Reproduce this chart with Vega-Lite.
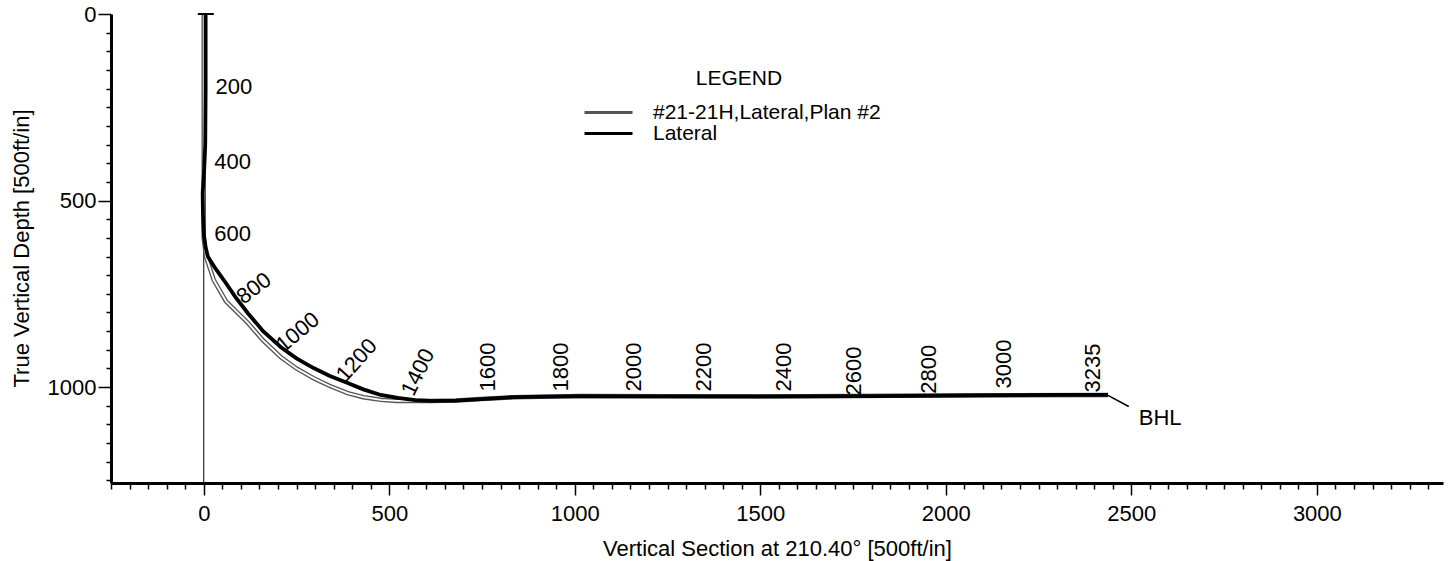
{
  "$schema": "https://vega.github.io/schema/vega-lite/v6.json",
  "width": 1332,
  "height": 469,
  "autosize": {"type": "none"},
  "padding": {"left": 111, "top": 14, "right": 7, "bottom": 78},
  "background": "white",
  "config": {
    "view": {"stroke": null},
    "font": "Liberation Sans",
    "axis": {
      "labelFont": "Liberation Sans",
      "titleFont": "Liberation Sans",
      "labelColor": "black",
      "titleColor": "black",
      "tickColor": "black",
      "domainColor": "black",
      "grid": false,
      "labelFontSize": 22,
      "titleFontSize": 22,
      "titleFontWeight": "normal",
      "domainWidth": 3,
      "tickWidth": 1.5
    },
    "legend": {
      "labelFont": "Liberation Sans",
      "titleFont": "Liberation Sans",
      "labelColor": "black",
      "titleColor": "black",
      "labelFontSize": 21,
      "titleFontSize": 21,
      "titleFontWeight": "normal",
      "padding": 0
    }
  },
  "datasets": {
    "plan": [
      {"series": "#21-21H,Lateral,Plan #2", "seq": 1, "vs": 0, "tvd": 0},
      {"series": "#21-21H,Lateral,Plan #2", "seq": 2, "vs": 0, "tvd": 300},
      {"series": "#21-21H,Lateral,Plan #2", "seq": 3, "vs": 0, "tvd": 600},
      {"series": "#21-21H,Lateral,Plan #2", "seq": 4, "vs": 6, "tvd": 650},
      {"series": "#21-21H,Lateral,Plan #2", "seq": 5, "vs": 27, "tvd": 713},
      {"series": "#21-21H,Lateral,Plan #2", "seq": 6, "vs": 60, "tvd": 770},
      {"series": "#21-21H,Lateral,Plan #2", "seq": 7, "vs": 119, "tvd": 828},
      {"series": "#21-21H,Lateral,Plan #2", "seq": 8, "vs": 160, "tvd": 875},
      {"series": "#21-21H,Lateral,Plan #2", "seq": 9, "vs": 208, "tvd": 920},
      {"series": "#21-21H,Lateral,Plan #2", "seq": 10, "vs": 250, "tvd": 950},
      {"series": "#21-21H,Lateral,Plan #2", "seq": 11, "vs": 296, "tvd": 976},
      {"series": "#21-21H,Lateral,Plan #2", "seq": 12, "vs": 340, "tvd": 997},
      {"series": "#21-21H,Lateral,Plan #2", "seq": 13, "vs": 388, "tvd": 1016},
      {"series": "#21-21H,Lateral,Plan #2", "seq": 14, "vs": 430, "tvd": 1027},
      {"series": "#21-21H,Lateral,Plan #2", "seq": 15, "vs": 477, "tvd": 1034},
      {"series": "#21-21H,Lateral,Plan #2", "seq": 16, "vs": 520, "tvd": 1037},
      {"series": "#21-21H,Lateral,Plan #2", "seq": 17, "vs": 612, "tvd": 1037},
      {"series": "#21-21H,Lateral,Plan #2", "seq": 18, "vs": 680, "tvd": 1036},
      {"series": "#21-21H,Lateral,Plan #2", "seq": 19, "vs": 747, "tvd": 1032},
      {"series": "#21-21H,Lateral,Plan #2", "seq": 20, "vs": 836, "tvd": 1027},
      {"series": "#21-21H,Lateral,Plan #2", "seq": 21, "vs": 1016, "tvd": 1024},
      {"series": "#21-21H,Lateral,Plan #2", "seq": 22, "vs": 1500, "tvd": 1025},
      {"series": "#21-21H,Lateral,Plan #2", "seq": 23, "vs": 2100, "tvd": 1022},
      {"series": "#21-21H,Lateral,Plan #2", "seq": 24, "vs": 2437, "tvd": 1021}
    ],
    "lateral": [
      {"series": "Lateral", "seq": 1, "vs": 5, "tvd": 0},
      {"series": "Lateral", "seq": 2, "vs": 5, "tvd": 200},
      {"series": "Lateral", "seq": 3, "vs": 4, "tvd": 350},
      {"series": "Lateral", "seq": 4, "vs": 1, "tvd": 420},
      {"series": "Lateral", "seq": 5, "vs": -3, "tvd": 480},
      {"series": "Lateral", "seq": 6, "vs": -2, "tvd": 540},
      {"series": "Lateral", "seq": 7, "vs": 0, "tvd": 590},
      {"series": "Lateral", "seq": 8, "vs": 5, "tvd": 625},
      {"series": "Lateral", "seq": 9, "vs": 11, "tvd": 650},
      {"series": "Lateral", "seq": 10, "vs": 30, "tvd": 680},
      {"series": "Lateral", "seq": 11, "vs": 54, "tvd": 713},
      {"series": "Lateral", "seq": 12, "vs": 85, "tvd": 758},
      {"series": "Lateral", "seq": 13, "vs": 119, "tvd": 802},
      {"series": "Lateral", "seq": 14, "vs": 160, "tvd": 850},
      {"series": "Lateral", "seq": 15, "vs": 208, "tvd": 893},
      {"series": "Lateral", "seq": 16, "vs": 250, "tvd": 923},
      {"series": "Lateral", "seq": 17, "vs": 296, "tvd": 949},
      {"series": "Lateral", "seq": 18, "vs": 340, "tvd": 970},
      {"series": "Lateral", "seq": 19, "vs": 388, "tvd": 989},
      {"series": "Lateral", "seq": 20, "vs": 430, "tvd": 1006},
      {"series": "Lateral", "seq": 21, "vs": 477, "tvd": 1021},
      {"series": "Lateral", "seq": 22, "vs": 523, "tvd": 1029},
      {"series": "Lateral", "seq": 23, "vs": 570, "tvd": 1035},
      {"series": "Lateral", "seq": 24, "vs": 612, "tvd": 1037},
      {"series": "Lateral", "seq": 25, "vs": 680, "tvd": 1036},
      {"series": "Lateral", "seq": 26, "vs": 747, "tvd": 1032},
      {"series": "Lateral", "seq": 27, "vs": 836, "tvd": 1027},
      {"series": "Lateral", "seq": 28, "vs": 1016, "tvd": 1024},
      {"series": "Lateral", "seq": 29, "vs": 1200, "tvd": 1025},
      {"series": "Lateral", "seq": 30, "vs": 1500, "tvd": 1025},
      {"series": "Lateral", "seq": 31, "vs": 1800, "tvd": 1024},
      {"series": "Lateral", "seq": 32, "vs": 2100, "tvd": 1022},
      {"series": "Lateral", "seq": 33, "vs": 2300, "tvd": 1021},
      {"series": "Lateral", "seq": 34, "vs": 2437, "tvd": 1021}
    ],
    "md_labels": [
      {"md": "200", "inc": 0, "vs": 81, "tvd": 196},
      {"md": "400", "inc": 0, "vs": 78, "tvd": 397},
      {"md": "600", "inc": 0, "vs": 78, "tvd": 590},
      {"md": "800", "inc": 37, "vs": 135, "tvd": 735},
      {"md": "1000", "inc": 40, "vs": 253, "tvd": 853},
      {"md": "1200", "inc": 48, "vs": 412, "tvd": 928},
      {"md": "1400", "inc": 64, "vs": 577, "tvd": 960},
      {"md": "1600", "inc": 90, "vs": 765, "tvd": 946},
      {"md": "1800", "inc": 90, "vs": 962, "tvd": 946},
      {"md": "2000", "inc": 90, "vs": 1159, "tvd": 946},
      {"md": "2200", "inc": 90, "vs": 1348, "tvd": 946},
      {"md": "2400", "inc": 90, "vs": 1563, "tvd": 946},
      {"md": "2600", "inc": 90, "vs": 1752, "tvd": 957},
      {"md": "2800", "inc": 90, "vs": 1954, "tvd": 952},
      {"md": "3000", "inc": 90, "vs": 2156, "tvd": 938},
      {"md": "3235", "inc": 90, "vs": 2396, "tvd": 949}
    ]
  },
  "layer": [
    {
      "data": {"values": [{"vs": 0}]},
      "mark": {"type": "rule", "color": "black", "strokeWidth": 1},
      "encoding": {
        "x": {
          "field": "vs",
          "type": "quantitative",
          "title": "Vertical Section at 210.40° [500ft/in]",
          "scale": {"domain": [-250, 3340], "nice": false, "zero": false},
          "axis": {
            "values": [-250,-200,-150,-100,-50,0,50,100,150,200,250,300,350,400,450,500,550,600,650,700,750,800,850,900,950,1000,1050,1100,1150,1200,1250,1300,1350,1400,1450,1500,1550,1600,1650,1700,1750,1800,1850,1900,1950,2000,2050,2100,2150,2200,2250,2300,2350,2400,2450,2500,2550,2600,2650,2700,2750,2800,2850,2900,2950,3000,3050,3100,3150,3200,3250,3300],
            "tickCount": 1000,
            "format": "d",
            "labelExpr": "datum.value % 500 === 0 ? datum.label : ''",
            "tickSize": {"condition": {"test": "datum.value % 500 === 0", "value": 12}, "value": 6},
            "labelPadding": 8,
            "labelOverlap": false,
            "labelFlush": false,
            "titleX": 666,
            "titleY": 65,
            "titleBaseline": "middle",
            "titleAlign": "center"
          }
        }
      }
    },
    {
      "data": {"name": "plan"},
      "mark": {"type": "line", "strokeWidth": 4.5},
      "encoding": {
        "x": {"field": "vs", "type": "quantitative", "title": "Vertical Section at 210.40° [500ft/in]"},
        "y": {
          "field": "tvd",
          "type": "quantitative",
          "title": "True Vertical Depth [500ft/in]",
          "scale": {"domain": [0, 1257], "reverse": true, "nice": false, "zero": false},
          "axis": {
            "values": [0,50,100,150,200,250,300,350,400,450,500,550,600,650,700,750,800,850,900,950,1000,1050,1100,1150,1200,1250],
            "tickCount": 1000,
            "format": "d",
            "labelExpr": "datum.value % 500 === 0 ? datum.label : ''",
            "tickSize": {"condition": {"test": "datum.value % 500 === 0", "value": 13}, "value": 5},
            "labelPadding": 2,
            "labelOverlap": false,
            "labelFlush": false,
            "titleX": -90,
            "titleY": 234,
            "titleAngle": -90,
            "titleBaseline": "middle",
            "titleAlign": "center"
          }
        },
        "order": {"field": "seq", "type": "quantitative"},
        "color": {
          "field": "series",
          "type": "nominal",
          "scale": {"domain": ["#21-21H,Lateral,Plan #2", "Lateral"], "range": ["#555555", "#000000"]},
          "legend": {
            "title": "LEGEND",
            "orient": "none",
            "legendX": 487,
            "legendY": 54,
            "symbolType": "M-4.8,0H4.8",
            "symbolSize": 100,
            "symbolStrokeWidth": 3,
            "labelOffset": 34,
            "labelLimit": 400,
            "rowPadding": -16,
            "titleAnchor": "middle",
            "titlePadding": 13
          }
        }
      }
    },
    {
      "data": {"name": "plan"},
      "mark": {"type": "line", "strokeWidth": 1.8, "color": "white"},
      "encoding": {
        "x": {"field": "vs", "type": "quantitative", "title": "Vertical Section at 210.40° [500ft/in]"},
        "y": {"field": "tvd", "type": "quantitative", "title": "True Vertical Depth [500ft/in]"},
        "order": {"field": "seq", "type": "quantitative"}
      }
    },
    {
      "data": {"name": "lateral"},
      "mark": {"type": "line", "strokeWidth": 3.8},
      "encoding": {
        "x": {"field": "vs", "type": "quantitative", "title": "Vertical Section at 210.40° [500ft/in]"},
        "y": {"field": "tvd", "type": "quantitative", "title": "True Vertical Depth [500ft/in]"},
        "order": {"field": "seq", "type": "quantitative"},
        "color": {"field": "series", "type": "nominal"}
      }
    },
    {
      "data": {"values": [{"vs": -16, "vs2": 27, "tvd": 0}]},
      "mark": {"type": "rule", "color": "black", "strokeWidth": 2},
      "encoding": {
        "x": {"field": "vs", "type": "quantitative", "title": "Vertical Section at 210.40° [500ft/in]"},
        "x2": {"field": "vs2"},
        "y": {"field": "tvd", "type": "quantitative", "title": "True Vertical Depth [500ft/in]"}
      }
    },
    {
      "data": {"values": [{"vs": 2437, "tvd": 1022, "vs2": 2493, "tvd2": 1052}]},
      "mark": {"type": "rule", "color": "black", "strokeWidth": 1.5},
      "encoding": {
        "x": {"field": "vs", "type": "quantitative", "title": "Vertical Section at 210.40° [500ft/in]"},
        "x2": {"field": "vs2"},
        "y": {"field": "tvd", "type": "quantitative", "title": "True Vertical Depth [500ft/in]"},
        "y2": {"field": "tvd2"}
      }
    },
    {
      "data": {"name": "md_labels"},
      "mark": {"type": "text", "font": "Liberation Sans", "fontSize": 22, "align": "center", "baseline": "middle", "color": "black"},
      "encoding": {
        "x": {"field": "vs", "type": "quantitative", "title": "Vertical Section at 210.40° [500ft/in]"},
        "y": {"field": "tvd", "type": "quantitative", "title": "True Vertical Depth [500ft/in]"},
        "text": {"field": "md"},
        "angle": {"field": "inc", "type": "quantitative", "scale": {"domain": [0, 90], "range": [360, 270]}, "legend": null}
      }
    },
    {
      "data": {"values": [{"vs": 2520, "tvd": 1083, "name": "BHL"}]},
      "mark": {"type": "text", "font": "Liberation Sans", "fontSize": 22, "align": "left", "baseline": "middle", "color": "black"},
      "encoding": {
        "x": {"field": "vs", "type": "quantitative", "title": "Vertical Section at 210.40° [500ft/in]"},
        "y": {"field": "tvd", "type": "quantitative", "title": "True Vertical Depth [500ft/in]"},
        "text": {"field": "name"}
      }
    }
  ]
}
